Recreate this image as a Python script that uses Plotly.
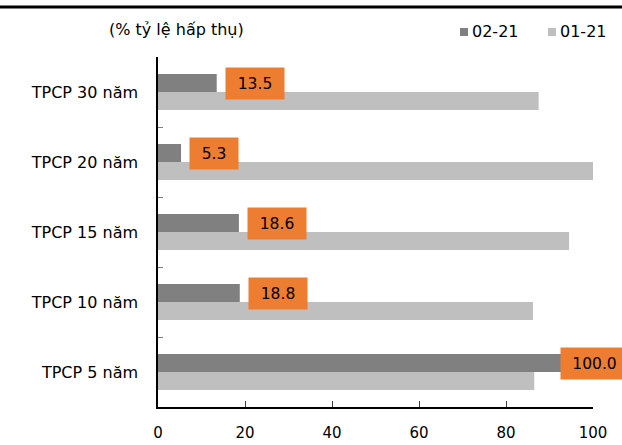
import plotly.graph_objects as go

# Bond tenors (bottom to top) and absorption rates (%) for the two auctions
categories = ["TPCP 5 năm", "TPCP 10 năm", "TPCP 15 năm", "TPCP 20 năm", "TPCP 30 năm"]
series_feb = [100.0, 18.8, 18.6, 5.3, 13.5]    # 02-21
series_jan = [86.5, 86.2, 94.5, 100.0, 87.5]   # 01-21
series_names = ["02-21", "01-21"]
x_ticks = [0, 20, 40, 60, 80, 100]
unit_label = "(% tỷ lệ hấp thụ)"

FONT = "DejaVu Sans"
DARK, LIGHT, ORANGE = "#808080", "#BFBFBF", "#ED7D31"

W, H = 622, 445
L, R, T, B = 158, 593, 57, 407          # plot area in pixels


def px_x(p):
    return (p - L) / (R - L)


def px_y(p):
    return (B - p) / (B - T)


fig = go.Figure()
# first trace sits lowest in each group, so the older auction goes first
fig.add_trace(go.Bar(y=categories, x=series_jan, orientation="h", name=series_names[1],
                     marker=dict(color=LIGHT, line=dict(width=0)), showlegend=False))
fig.add_trace(go.Bar(y=categories, x=series_feb, orientation="h", name=series_names[0],
                     marker=dict(color=DARK, line=dict(width=0)), showlegend=False))

# value labels for the 02-21 series: orange boxes to the right of each bar
scale = (R - L) / 100.0
fs_lab = 15.5
for cat, v in zip(categories, series_feb):
    txt = f"{v:.1f}"
    tw = sum(0.318 if c == "." else 0.636 for c in txt) * fs_lab
    w = round(tw + 23)
    shift = 8
    right_edge = L + v * scale + shift + w
    if right_edge > W + 5:
        shift -= right_edge - (W + 5)
    fig.add_annotation(x=v, y=cat, xref="x", yref="y", text=txt, showarrow=False,
                       xanchor="left", yanchor="middle", xshift=shift, yshift=9,
                       width=w, height=31, borderpad=0, bgcolor=ORANGE, align="center",
                       font=dict(family=FONT, size=fs_lab, color="#000"))

# unit caption
fig.add_annotation(x=px_x(107), y=px_y(30), xref="paper", yref="paper", text=unit_label,
                   showarrow=False, xanchor="left", yanchor="middle",
                   font=dict(family=FONT, size=16, color="#000"))

# legend drawn as swatch + caption pairs
for name, color, sx in [(series_names[0], DARK, 460), (series_names[1], LIGHT, 548)]:
    fig.add_shape(type="rect", xref="paper", yref="paper",
                  x0=px_x(sx), x1=px_x(sx + 8), y0=px_y(36), y1=px_y(28),
                  fillcolor=color, line=dict(width=0))
    fig.add_annotation(x=px_x(sx + 10), y=px_y(31), xref="paper", yref="paper", text=name,
                       showarrow=False, xanchor="left", yanchor="middle",
                       font=dict(family=FONT, size=16, color="#000"))

# heavy rule across the top
fig.add_shape(type="line", xref="paper", yref="paper", x0=px_x(0), x1=px_x(W),
              y0=px_y(7), y1=px_y(7), line=dict(color="#000", width=3))

fig.update_layout(
    width=W, height=H,
    margin=dict(l=L, r=W - R, t=T, b=H - B, pad=0, autoexpand=False),
    paper_bgcolor="white", plot_bgcolor="white",
    barmode="group", bargap=0.486, bargroupgap=0,
    font=dict(family=FONT, size=16, color="#000"),
    showlegend=False,
)
fig.update_xaxes(range=[0, 100], tickvals=x_ticks, ticks="inside", ticklen=6,
                 tickcolor="#404040", tickwidth=1, showline=True, linecolor="#000",
                 linewidth=1.5, showgrid=False, zeroline=False, automargin=False,
                 tickfont=dict(family=FONT, size=15), ticklabelstandoff=11)
fig.update_yaxes(type="category", categoryorder="array", categoryarray=categories,
                 ticks="inside", tickson="boundaries", ticklen=5, tickcolor="#808080",
                 tickwidth=1, showline=True, linecolor="#000", linewidth=1.5,
                 showgrid=False, zeroline=False, automargin=False,
                 tickfont=dict(family=FONT, size=16), ticklabelstandoff=15)

fig.write_html("out.html")
